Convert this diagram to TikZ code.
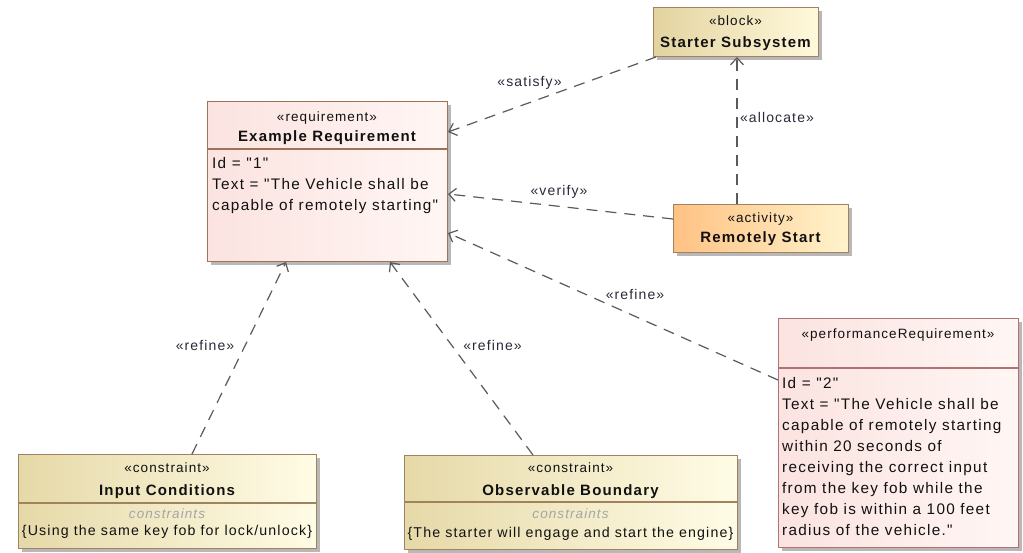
\documentclass[tikz,border=0pt]{standalone}
\usepackage{fontspec}
\newfontfamily\lsf{Liberation Sans}[LetterSpace=8]
\newfontfamily\lsfb{Liberation Sans}[LetterSpace=8.5]
\usetikzlibrary{arrows.meta,shadows,calc}
\definecolor{reqborder}{HTML}{9C7358}
\definecolor{perfborder}{HTML}{B07272}
\definecolor{reqL}{HTML}{FBE3E0}
\definecolor{reqR}{HTML}{FFF6F4}
\definecolor{blkborder}{HTML}{A0825E}
\definecolor{blkL}{HTML}{E3D3A0}
\definecolor{blkR}{HTML}{FFF9DC}
\definecolor{actL}{HTML}{FFC283}
\definecolor{actR}{HTML}{FFF3CC}
\definecolor{conL}{HTML}{E6D9A8}
\definecolor{conR}{HTML}{FFFCE6}
\definecolor{linec}{HTML}{5A5A5A}
\definecolor{lblc}{HTML}{2A2A3A}
\definecolor{txt}{HTML}{111111}
\definecolor{graytxt}{HTML}{A5A5A5}
\tikzset{
  box/.style={draw, line width=1.1pt, inner sep=0pt, anchor=north west,
    drop shadow={shadow xshift=3.5pt, shadow yshift=-3.5pt, fill=black, opacity=0.28}},
  reqbox/.style={box, draw=reqborder, left color=reqL, right color=reqR},
  perfbox/.style={box, draw=perfborder, left color=reqL, right color=reqR},
  blkbox/.style={box, draw=blkborder, left color=blkL, right color=blkR},
  actbox/.style={box, draw=blkborder, left color=actL, right color=actR},
  conbox/.style={box, draw=blkborder, left color=conL, right color=conR},
  divline/.style={line width=1.1pt},
  st/.style={font=\lsf\fontsize{13.5}{16}\selectfont, inner sep=0pt, anchor=base, text=txt},
  ttl/.style={font=\lsf\fontsize{15}{18}\selectfont\bfseries, inner sep=0pt, anchor=base, text=txt},
  bodyl/.style={font=\lsfb\fontsize{15.3}{21}\selectfont, inner sep=0pt, anchor=base west, text=txt},
  conbody/.style={font=\lsf\fontsize{14.2}{18}\selectfont, inner sep=0pt, anchor=base, text=txt},
  conhdr/.style={font=\lsf\fontsize{13.5}{16}\selectfont\itshape, inner sep=0pt, anchor=base, text=graytxt},
  dep/.style={draw=linec, line width=1.2pt, dash pattern=on 11pt off 8pt,
    -{Straight Barb[length=7pt, width=13pt, line width=1.2pt]}},
  lbl/.style={font=\lsf\fontsize{14}{16}\selectfont, inner sep=0pt, text=lblc}
}
\begin{document}
\begin{tikzpicture}[x=1pt,y=-1pt]
\fill[white] (0,0) rectangle (1023,552);
\useasboundingbox (0,0) rectangle (1023,552);

% Example Requirement
\node[reqbox, minimum width=240pt, minimum height=160pt] (req) at (207,101) {};
\draw[divline, draw=reqborder] (207,149) -- (447,149);
\node[st] (reqst) at (327,121) {«requirement»};
\node[ttl] (reqtt) at (327,141.5) {Example Requirement};
\node[bodyl] (reqb1) at (212,168) {Id = "1"};
\node[bodyl] (reqb2) at (212,189) {Text = "The Vehicle shall be};
\node[bodyl] (reqb3) at (212,210) {capable of remotely starting"};

% Starter Subsystem
\node[blkbox, minimum width=165pt, minimum height=49pt] (blk) at (653,7) {};
\node[st] (blkst) at (735.5,25.5) {«block»};
\node[ttl] (blktt) at (735.5,47) {Starter Subsystem};

% Remotely Start
\node[actbox, minimum width=175pt, minimum height=48pt] (act) at (673,204) {};
\node[st] (actst) at (760.5,222) {«activity»};
\node[ttl] (acttt) at (760.5,242.5) {Remotely Start};

% Performance requirement
\node[perfbox, minimum width=240pt, minimum height=229pt] (perf) at (778,318) {};
\draw[divline, draw=perfborder] (778,368) -- (1018,368);
\node[st] (perfst) at (898,338) {«performanceRequirement»};
\node[bodyl] (pb1) at (782,388) {Id = "2"};
\node[bodyl] (pb2) at (782,409) {Text = "The Vehicle shall be};
\node[bodyl] (pb3) at (782,430) {capable of remotely starting};
\node[bodyl] (pb4) at (782,451) {within 20 seconds of};
\node[bodyl] (pb5) at (782,472) {receiving the correct input};
\node[bodyl] (pb6) at (782,493) {from the key fob while the};
\node[bodyl] (pb7) at (782,514) {key fob is within a 100 feet};
\node[bodyl] (pb8) at (782,535) {radius of the vehicle."};

% Input Conditions
\node[conbox, minimum width=298pt, minimum height=94pt] (inp) at (18,454) {};
\draw[divline, draw=blkborder] (18,503) -- (316,503);
\node[st] (inpst) at (167,472) {«constraint»};
\node[ttl] (inptt) at (167,495) {Input Conditions};
\node[conhdr] (inpch) at (167,518) {constraints};
\node[conbody] (inpb) at (167,535.5) {\{Using the same key fob for lock/unlock\}};

% Observable Boundary
\node[conbox, minimum width=333pt, minimum height=94pt] (obs) at (404,455) {};
\draw[divline, draw=blkborder] (404,502) -- (737,502);
\node[st] (obsst) at (570.5,472) {«constraint»};
\node[ttl] (obstt) at (570.5,495) {Observable Boundary};
\node[conhdr] (obsch) at (570.5,518) {constraints};
\node[conbody] (obsb) at (570.5,537) {\{The starter will engage and start the engine\}};

% connectors
\coordinate (satS) at (656,57);
\coordinate (satE) at (448,132);
\draw[dep] (satS) -- (satE);
\node[lbl] (satL) at (529.5,83) {«satisfy»};

\coordinate (allS) at (737,204);
\coordinate (allE) at (737,57);
\draw[dep] (allS) -- (allE);
\node[lbl] (allL) at (777,117) {«allocate»};

\coordinate (verS) at (673,219);
\coordinate (verE) at (448,194);
\draw[dep] (verS) -- (verE);
\node[lbl] (verL) at (559,192) {«verify»};

\coordinate (rf1S) at (778,380);
\coordinate (rf1E) at (448,233);
\draw[dep] (rf1S) -- (rf1E);
\node[lbl] (rf1L) at (635,294) {«refine»};

\coordinate (rf2S) at (192,454);
\coordinate (rf2E) at (286,262);
\draw[dep] (rf2S) -- (rf2E);
\node[lbl] (rf2L) at (205,345) {«refine»};

\coordinate (rf3S) at (533,455);
\coordinate (rf3E) at (390,262);
\draw[dep] (rf3S) -- (rf3E);
\node[lbl] (rf3L) at (492.5,345) {«refine»};
\end{tikzpicture}
\end{document}
